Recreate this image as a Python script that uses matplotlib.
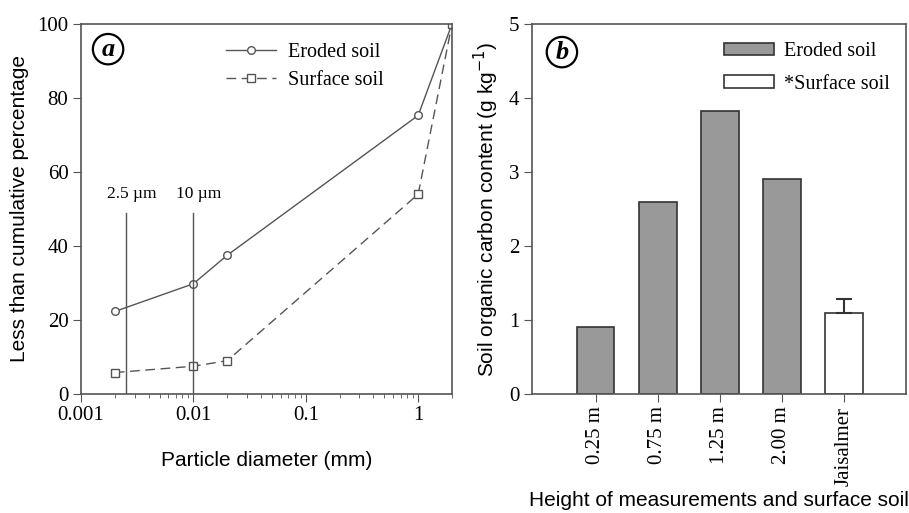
import matplotlib
matplotlib.use('Agg')
import matplotlib.pyplot as plt
import numpy as np

# panel a data
diametri = [0.002, 0.01, 0.02, 1.0, 2.0]
eroded_cum = [22.3, 29.8, 37.5, 75.3, 100.0]
surface_cum = [5.8, 7.5, 9.0, 54.0, 100.0]
pm_granice = [0.0025, 0.01]
pm_oznake = ['2.5 \u00b5m', '10 \u00b5m']

# panel b data
kategorije = ['0.25 m', '0.75 m', '1.25 m', '2.00 m', 'Jaisalmer']
soc = [0.9, 2.6, 3.83, 2.9, 1.1]
soc_err = [0, 0, 0, 0, 0.18]

serif = 'Liberation Serif'
sans = 'Liberation Sans'
siva = '#555555'

fig = plt.figure(figsize=(9.09, 5.13), dpi=100)
ax1 = fig.add_axes([81/909, 1-394/513, (452-81)/909, (394-24)/513])
ax2 = fig.add_axes([532/909, 1-394/513, (906-532)/909, (394-24)/513])

# ---- a ----
ax1.plot(diametri, eroded_cum, '-', color=siva, lw=1, marker='o', ms=5.5,
         mfc='white', mec=siva, label='Eroded soil')
ax1.plot(diametri, surface_cum, '--', color=siva, lw=1, marker='s', ms=5.5,
         mfc='white', mec=siva, dashes=(7, 4), label='Surface soil')
for xg, oz in zip(pm_granice, pm_oznake):
    ax1.plot([xg, xg], [0, 49], color=siva, lw=1)
    ax1.text(xg*1.12, 52, oz, ha='center', va='bottom', fontsize=12.5, family=serif)
ax1.set_xscale('log')
ax1.set_xlim(0.001, 2)
ax1.set_ylim(0, 100)
ax1.set_xticks([0.001, 0.01, 0.1, 1])
ax1.set_xticklabels(['0.001', '0.01', '0.1', '1'])
ax1.set_yticks([0, 20, 40, 60, 80, 100])
ax1.set_xlabel('Particle diameter (mm)', fontsize=15, family=sans, labelpad=18)
ax1.set_ylabel('Less than cumulative percentage', fontsize=15, family=sans, labelpad=6)
ax1.legend(loc='upper left', bbox_to_anchor=(0.39, 0.95), frameon=False,
           borderpad=0, borderaxespad=0,
           prop={'family': serif, 'size': 14.5}, handlelength=2.5,
           handletextpad=0.6, labelspacing=0.45)
ax1.text(0.073, 0.932, 'a', transform=ax1.transAxes, fontsize=19, family=serif,
         style='italic', weight='bold', ha='center', va='center',
         bbox=dict(boxstyle='circle,pad=0.14', fc='white', ec='black', lw=1.6))

# ---- b ----
xpos = np.arange(len(kategorije))
boje = ['#999999'] * 4 + ['white']
bars = ax2.bar(xpos, soc, width=0.6, color=boje, edgecolor='#333333', lw=1.2)
ax2.errorbar(xpos[-1], soc[-1], yerr=[[0], [soc_err[-1]]], fmt='none',
             ecolor='#333333', elinewidth=1.5, capsize=6, capthick=1.5)
ax2.set_xlim(-1.03, 5.0)
ax2.set_ylim(0, 5)
ax2.set_xticks(xpos)
ax2.set_xticklabels(kategorije, rotation=90)
ax2.set_yticks([0, 1, 2, 3, 4, 5])
ax2.set_xlabel('Height of measurements and surface soil', fontsize=15, family=sans, labelpad=4)
ax2.set_ylabel('Soil organic carbon content (g kg$^{-1}$)', fontsize=15, family=sans, labelpad=6)
ax2.legend([bars[0], bars[4]], ['Eroded soil', '*Surface soil'], loc='upper left',
           bbox_to_anchor=(0.513, 0.95), frameon=False, borderpad=0, borderaxespad=0,
           prop={'family': serif, 'size': 14.5}, handlelength=2.5, handleheight=0.55,
           labelspacing=0.65, handletextpad=0.5)
ax2.text(0.080, 0.924, 'b', transform=ax2.transAxes, fontsize=19, family=serif,
         style='italic', weight='bold', ha='center', va='center',
         bbox=dict(boxstyle='circle,pad=0.14', fc='white', ec='black', lw=1.6))

for ax in (ax1, ax2):
    for s in ax.spines.values():
        s.set_color(siva)
        s.set_linewidth(1.2)
    ax.tick_params(which='both', direction='out', color=siva, labelsize=15)
    ax.tick_params(which='major', length=6, pad=3)
    ax.tick_params(which='minor', length=3)
    for lab in ax.get_xticklabels() + ax.get_yticklabels():
        lab.set_family(serif)

fig.savefig('out.png', dpi=100)
